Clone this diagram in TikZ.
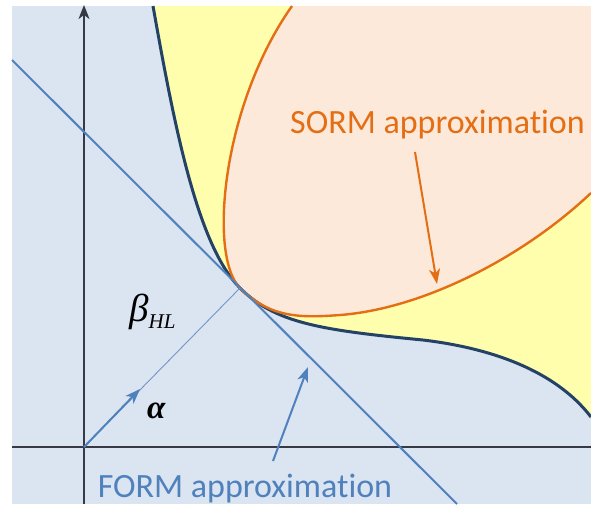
\documentclass[tikz,border=0pt]{standalone}
\usepackage{fontspec}
\setmainfont{Carlito}[Ligatures=NoCommon]
\newfontfamily\tms{Liberation Serif}
\usetikzlibrary{arrows.meta}
\definecolor{bgblue}{RGB}{219,228,241}
\definecolor{failyellow}{RGB}{255,254,172}
\definecolor{sormpink}{RGB}{253,233,218}
\definecolor{sormorange}{RGB}{228,110,20}
\definecolor{lsblue}{RGB}{35,66,102}
\definecolor{formblue}{RGB}{79,129,189}
\definecolor{axiscol}{RGB}{55,58,68}
\definecolor{betacol}{RGB}{115,150,198}
\begin{document}
\begin{tikzpicture}[x=1pt,y=-1pt,
  lbl/.style={font=\fontsize{34}{40}\selectfont, inner sep=0pt, anchor=base},
  arr/.style={-{Stealth[length=15pt,width=11pt,inset=4pt]}, line width=2pt},
  axisline/.style={axiscol, line width=1.4pt}]
\useasboundingbox (0,0) rectangle (591,504);
\coordinate (O) at (84,447);
\coordinate (T) at (240,288);
\coordinate (lstop) at (153,6);
\coordinate (lsend) at (591,417);
\coordinate (lsmid) at (423,340);
\coordinate (stop) at (292,6);
\coordinate (smid) at (340,315);
\coordinate (send) at (591,193);
\coordinate (cTR) at (591,6);
% background
\fill[bgblue] (12,6) rectangle (591,504);
% failure domain
\fill[failyellow] (lstop) .. controls (175,130) and (198,246) .. (T)
  .. controls (275,323) and (320,330) .. (lsmid)
  .. controls (490,348) and (555,370) .. (lsend) -- (cTR) -- cycle;
% SORM region
\fill[sormpink] (stop) .. controls (222,105) and (208,256) .. (T)
  .. controls (270,318) and (300,318) .. (smid)
  .. controls (420,309) and (520,260) .. (send) -- (cTR) -- cycle;
% axes
\coordinate (ytop) at (84,5);
\coordinate (ybot) at (84,504);
\coordinate (xl) at (12,447);
\coordinate (xr) at (591,447);
\draw[axisline] (O) -- (ybot);
\draw[axisline, -{Stealth[length=14pt,width=11pt,inset=4pt]}] (O) -- (ytop);
\draw[axisline] (xl) -- (xr);
% limit state curve
\draw[lsblue, line width=3pt] (lstop) .. controls (175,130) and (198,246) .. (T)
  .. controls (275,323) and (320,330) .. (lsmid)
  .. controls (490,348) and (555,370) .. (lsend);
% SORM curve
\draw[sormorange, line width=2.4pt] (stop) .. controls (222,105) and (208,256) .. (T)
  .. controls (270,318) and (300,318) .. (smid)
  .. controls (420,309) and (520,260) .. (send);
% FORM line
\coordinate (F1) at (12,60);
\coordinate (F2) at (457,504);
\draw[formblue, line width=2pt] (F1) -- (F2);
% beta line and alpha
\coordinate (A) at (140,389);
\draw[betacol, line width=0.9pt] (O) -- (T);
\draw[formblue, arr] (O) -- (A);
% labels
\node[lbl, text=formblue] (form) at (245,497) {FORM approximation};
\node[lbl, text=sormorange] (sorm) at (437.5,133) {SORM approximation};
\node[inner sep=0pt, anchor=base west] (beta) at (129,321) {\tms\itshape\fontsize{39}{42}\selectfont β\raisebox{-7pt}{\fontsize{21}{21}\selectfont HL}};
\node[inner sep=0pt, anchor=base west] (alpha) at (147,418) {\tms\bfseries\itshape\fontsize{33}{36}\selectfont α};
% pointer arrows
\coordinate (fs) at (273,461);
\coordinate (fe) at (308,367);
\draw[formblue, arr] (fs) -- (fe);
\coordinate (ss) at (415,152);
\coordinate (se) at (437,284);
\draw[sormorange, arr] (ss) -- (se);
\end{tikzpicture}
\end{document}
